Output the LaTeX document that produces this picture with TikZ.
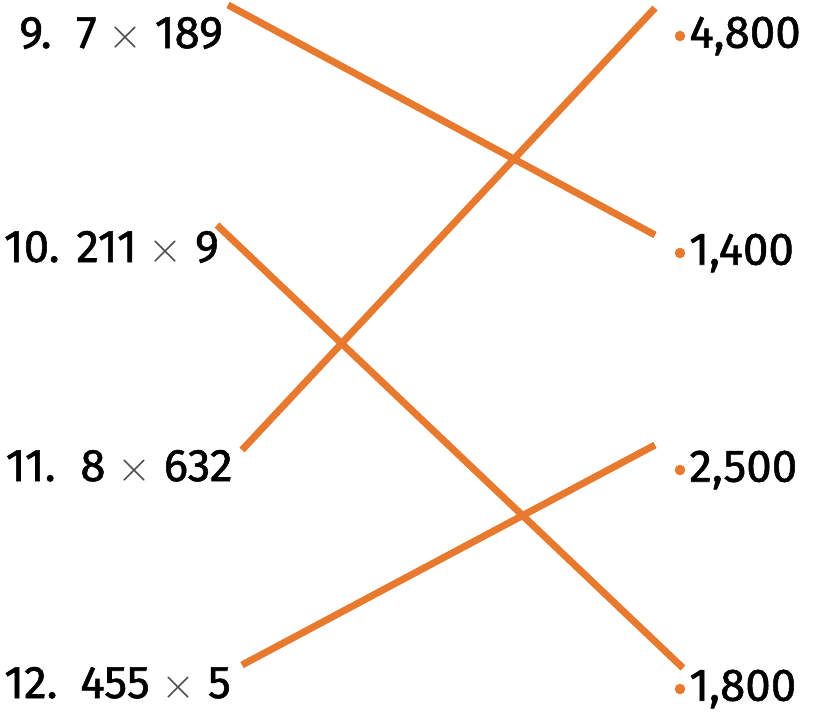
\documentclass[tikz,border=0pt]{standalone}
\usepackage{fontspec}
\setmainfont[Numbers=Proportional]{Fira Sans}
\usepackage{xcolor}
\usepackage{tikz}
\usetikzlibrary{positioning}

\definecolor{lineorange}{HTML}{E87A30}
\newcommand{\tms}{{\color{black!70}\fontsize{34}{34}\selectfont$\times$}}

\begin{document}
\begin{tikzpicture}[
    x=0.02cm, y=-0.02cm,
    num/.style={anchor=base east, inner sep=0pt, font=\fontsize{26}{30}\selectfont\addfontfeatures{FakeBold=1.2}},
    expr/.style={anchor=base west, inner sep=0pt, font=\fontsize{26}{30}\selectfont\addfontfeatures{FakeBold=1.2}},
    answer/.style={anchor=base west, inner sep=0pt, font=\fontsize{26}{30}\selectfont\addfontfeatures{FakeBold=1.2}},
    dot/.style={circle, fill=lineorange, inner sep=0pt, minimum size=6pt},
    match/.style={draw=lineorange, line width=4pt},
]
    \useasboundingbox (0,0) rectangle (815,711);

    % Problems
    \node[num] (n9) at (52, 48) {9.};
    \node[expr] (q9) at (76, 48) {7 \tms{} 189};
    \node[num] (n10) at (60, 262) {10.};
    \node[expr] (q10) at (76, 262) {211 \tms{} 9};
    \node[num] (n11) at (56, 481) {11.};
    \node[expr] (q11) at (80, 481) {8 \tms{} 632};
    \node[num] (n12) at (58, 698) {12.};
    \node[expr] (q12) at (80, 698) {455 \tms{} 5};

    % Answers
    \node[dot] (d4800) at (680, 36) {};
    \node[answer, right=9 of d4800.center, anchor=west] (a4800) {4,800};
    \node[dot] (d1400) at (680, 253) {};
    \node[answer, right=9 of d1400.center, anchor=west] (a1400) {1,400};
    \node[dot] (d2500) at (680, 470) {};
    \node[answer, right=9 of d2500.center, anchor=west] (a2500) {2,500};
    \node[dot] (d1800) at (680, 689) {};
    \node[answer, right=9 of d1800.center, anchor=west] (a1800) {1,800};

    % Line ends
    \coordinate (s9) at (228, 5);
    \coordinate (e1400) at (655, 235);
    \coordinate (s11) at (242, 450);
    \coordinate (e4800) at (655, 8);
    \coordinate (s10) at (217, 225);
    \coordinate (e1800) at (683, 668);
    \coordinate (s12) at (242, 665);
    \coordinate (e2500) at (655, 445);

    % Matches
    \draw[match] (s9) -- (e1400);
    \draw[match] (s11) -- (e4800);
    \draw[match] (s10) -- (e1800);
    \draw[match] (s12) -- (e2500);
\end{tikzpicture}
\end{document}
